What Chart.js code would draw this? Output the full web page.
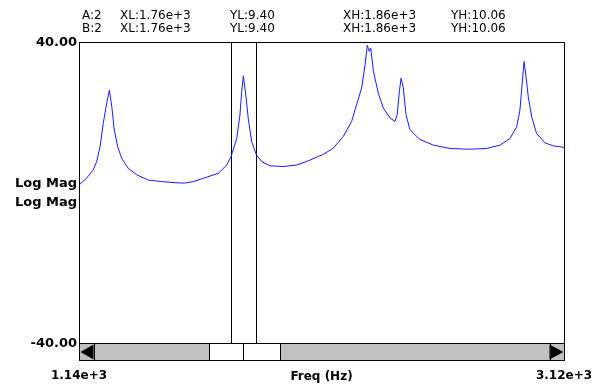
<!DOCTYPE html>
<html>
<head>
<meta charset="utf-8">
<script src="https://cdn.jsdelivr.net/npm/chart.js@4.4.1/dist/chart.umd.min.js"></script>
<style>
  html, body { margin: 0; padding: 0; background: #fff; overflow: hidden; }
  canvas { display: block; }
</style>
</head>
<body>
<canvas id="c" width="597" height="385"></canvas>
<script>
// Frequency response trace: frequency (Hz) and log magnitude (dB)
const freqHz = [
  1140, 1171, 1198, 1212, 1226, 1239, 1253, 1264, 1274, 1284, 1298, 1314, 1341, 1376,
  1423, 1478, 1532, 1570, 1607, 1709, 1743, 1760, 1784, 1797, 1804, 1811, 1821, 1831,
  1845, 1864, 1886, 1920, 1974, 2029, 2083, 2117, 2137, 2178, 2219, 2253, 2273, 2294,
  2308, 2317, 2325, 2331, 2342, 2362, 2382, 2410, 2430, 2439, 2448, 2455, 2464, 2475,
  2491, 2525, 2532, 2586, 2655, 2730, 2804, 2859, 2900, 2927, 2940, 2947, 2957, 2965,
  2974, 2988, 3008, 3042, 3076, 3120
];
const logMagDb = [
  2.0, 3.8, 6.0, 8.2, 12.2, 18.4, 23.7, 27.2, 22.8, 16.6, 12.2, 9.1, 6.4, 4.7,
  3.3, 2.9, 2.6, 2.5, 2.9, 5.1, 7.3, 9.40, 14.4, 20.6, 26.8, 31.0, 25.9, 19.7,
  13.5, 10.06, 8.2, 7.1, 6.9, 7.3, 8.6, 9.6, 10.1, 11.8, 14.9, 18.9, 23.3, 27.8,
  34.0, 39.1, 37.5, 38.4, 32.2, 26.4, 22.5, 19.8, 18.9, 20.7, 26.9, 30.4, 27.8, 20.7,
  16.7, 14.5, 14.1, 12.6, 11.7, 11.5, 11.7, 12.6, 14.4, 17.5, 21.9, 27.2, 34.8, 30.8,
  25.5, 20.1, 15.7, 13.2, 12.4, 12.0
];

// Axis ticks
const xTicks = [1140, 3120];
const yTicks = [-40, 40];

// Cursor readout (both cursor rows share the same band)
const cursorNames = ['A:2', 'B:2'];
const cursorXL = [1760, 1760];
const cursorYL = [9.40, 9.40];
const cursorXH = [1864, 1864];
const cursorYH = [10.06, 10.06];

const yLabel = 'Log Mag';
const xLabel = 'Freq (Hz)';

const boldFont = 'bold 13px "DejaVu Sans"';
const textFont = '12px "DejaVu Sans"';

const points = freqHz.map((f, i) => ({ x: f, y: logMagDb[i] }));

function crisp(v) { return Math.round(v) + 0.5; }

const analyzerChrome = {
  id: 'analyzerChrome',
  beforeDraw(chart) {
    const ctx = chart.ctx;
    ctx.save();
    ctx.fillStyle = '#ffffff';
    ctx.fillRect(0, 0, chart.width, chart.height);
    ctx.restore();
  },
  beforeDatasetsDraw(chart) {
    const { ctx, chartArea: a, scales } = chart;
    ctx.save();
    ctx.strokeStyle = '#000';
    ctx.lineWidth = 1;
    // band cursors
    [cursorXL[0], cursorXH[0]].forEach(f => {
      const px = crisp(scales.x.getPixelForValue(f));
      ctx.beginPath();
      ctx.moveTo(px, a.top);
      ctx.lineTo(px, a.bottom);
      ctx.stroke();
    });
    ctx.restore();
  },
  afterDraw(chart) {
    const { ctx, chartArea: a } = chart;
    const L = crisp(a.left), R = crisp(a.right), T = crisp(a.top), B = crisp(a.bottom);
    ctx.save();
    ctx.strokeStyle = '#000';
    ctx.lineWidth = 1;
    ctx.strokeRect(L, T, R - L, B - T);

    // scroll bar under the plot
    const sTop = B, sBot = B + 17;
    const w = R - L;
    ctx.fillStyle = '#c0c0c0';
    ctx.fillRect(L, sTop, w, sBot - sTop);
    const t0 = crisp(L + w * 0.266), t1 = crisp(L + w * 0.338), t2 = crisp(L + w * 0.414);
    ctx.fillStyle = '#ffffff';
    ctx.fillRect(t0, sTop, t2 - t0, sBot - sTop);
    ctx.strokeRect(L, sTop, w, sBot - sTop);
    [t0, t1, t2, crisp(L + 14), crisp(R - 15)].forEach(x => {
      ctx.beginPath(); ctx.moveTo(x, sTop); ctx.lineTo(x, sBot); ctx.stroke();
    });
    const mid = (sTop + sBot) / 2;
    ctx.fillStyle = '#000';
    ctx.beginPath();
    ctx.moveTo(L + 1, mid); ctx.lineTo(L + 14, sTop + 1); ctx.lineTo(L + 14, sBot - 1); ctx.closePath(); ctx.fill();
    ctx.beginPath();
    ctx.moveTo(R - 1, mid); ctx.lineTo(R - 15, sTop + 1); ctx.lineTo(R - 15, sBot - 1); ctx.closePath(); ctx.fill();

    // cursor readout
    ctx.fillStyle = '#000';
    ctx.font = textFont;
    ctx.textAlign = 'left';
    ctx.textBaseline = 'alphabetic';
    cursorNames.forEach((n, i) => {
      const y = 19 + i * 13;
      ctx.fillText(n, 82, y);
      ctx.fillText('XL:' + cursorXL[i].toExponential(2), 120, y);
      ctx.fillText('YL:' + cursorYL[i].toFixed(2), 230, y);
      ctx.fillText('XH:' + cursorXH[i].toExponential(2), 343, y);
      ctx.fillText('YH:' + cursorYH[i].toFixed(2), 451, y);
    });

    // axis names
    ctx.font = boldFont;
    ctx.textAlign = 'right';
    ctx.fillText(yLabel, a.left - 2, 187);
    ctx.fillText(yLabel, a.left - 2, 206);
    ctx.font = 'bold 12px "DejaVu Sans"';
    ctx.textAlign = 'center';
    ctx.fillText(xLabel, (a.left + a.right) / 2, 380);
    ctx.restore();
  }
};

new Chart(document.getElementById('c'), {
  type: 'line',
  data: {
    datasets: [{
      data: points,
      borderColor: '#1a1aff',
      borderWidth: 1,
      pointRadius: 0,
      tension: 0,
      fill: false
    }]
  },
  options: {
    responsive: false,
    animation: false,
    devicePixelRatio: 1,
    layout: { padding: { top: 42, right: 33, bottom: 0, left: 0 } },
    plugins: { legend: { display: false }, tooltip: { enabled: false } },
    scales: {
      x: {
        type: 'linear',
        min: xTicks[0],
        max: xTicks[xTicks.length - 1],
        afterBuildTicks: s => { s.ticks = xTicks.map(v => ({ value: v })); },
        afterFit: s => { s.height = 42; s.paddingLeft = 0; s.paddingRight = 0; },
        grid: { display: false, drawTicks: false },
        border: { display: false },
        ticks: {
          autoSkip: false,
          maxRotation: 0,
          padding: 26,
          color: '#000',
          font: { family: 'DejaVu Sans', size: 12, weight: 'bold' },
          callback: v => Number(v).toExponential(2)
        }
      },
      y: {
        type: 'linear',
        min: yTicks[0],
        max: yTicks[yTicks.length - 1],
        afterBuildTicks: s => { s.ticks = yTicks.map(v => ({ value: v })); },
        afterFit: s => { s.width = 79; s.paddingTop = 0; s.paddingBottom = 0; },
        grid: { display: false, drawTicks: false },
        border: { display: false },
        ticks: {
          padding: 2,
          labelOffset: 1,
          color: '#000',
          font: { family: 'DejaVu Sans', size: 13, weight: 'bold' },
          callback: v => Number(v).toFixed(2)
        }
      }
    }
  },
  plugins: [analyzerChrome]
});
</script>
</body>
</html>
